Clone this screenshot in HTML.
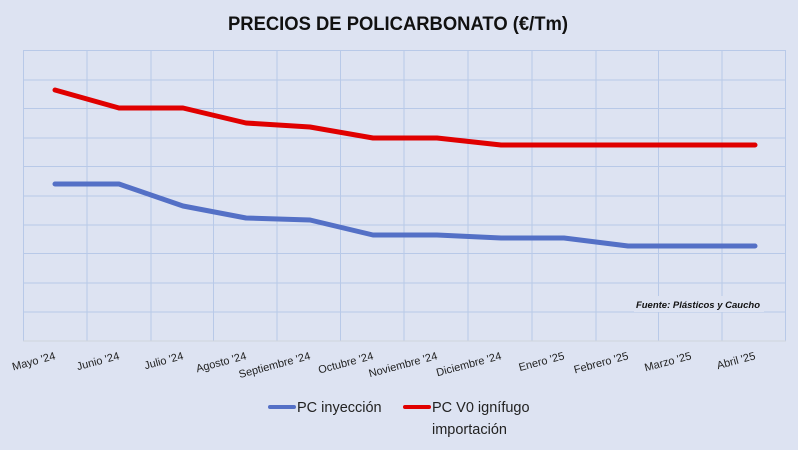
<!DOCTYPE html>
<html><head><meta charset="utf-8"><style>
html,body{margin:0;padding:0;background:#dde3f2;}
svg{display:block;font-family:"Liberation Sans",sans-serif;}
</style></head><body>
<svg width="798" height="450" viewBox="0 0 798 450">
<rect width="798" height="450" fill="#dde3f2"/>
<text x="398" y="30" text-anchor="middle" font-size="19" font-weight="bold" fill="#111" textLength="340" lengthAdjust="spacingAndGlyphs">PRECIOS DE POLICARBONATO (€/Tm)</text>
<g stroke="#b8c9e8" stroke-width="1">
<line x1="23" y1="50.5" x2="786" y2="50.5"/><line x1="23" y1="80" x2="786" y2="80"/>
<line x1="23" y1="108.5" x2="786" y2="108.5"/><line x1="23" y1="138" x2="786" y2="138"/>
<line x1="23" y1="166.5" x2="786" y2="166.5"/><line x1="23" y1="196" x2="786" y2="196"/>
<line x1="23" y1="225" x2="786" y2="225"/><line x1="23" y1="253.5" x2="786" y2="253.5"/>
<line x1="23" y1="283" x2="786" y2="283"/><line x1="23" y1="312" x2="786" y2="312"/>
<line x1="23.5" y1="50" x2="23.5" y2="341"/><line x1="87" y1="50" x2="87" y2="341"/>
<line x1="151" y1="50" x2="151" y2="341"/><line x1="213.5" y1="50" x2="213.5" y2="341"/>
<line x1="277" y1="50" x2="277" y2="341"/><line x1="340.5" y1="50" x2="340.5" y2="341"/>
<line x1="404" y1="50" x2="404" y2="341"/><line x1="468" y1="50" x2="468" y2="341"/>
<line x1="532" y1="50" x2="532" y2="341"/><line x1="596" y1="50" x2="596" y2="341"/>
<line x1="658.5" y1="50" x2="658.5" y2="341"/><line x1="722" y1="50" x2="722" y2="341"/>
<line x1="785.5" y1="50" x2="785.5" y2="341"/>
</g>
<line x1="23" y1="341" x2="786" y2="341" stroke="#d0d4dc" stroke-width="1"/>
<rect x="634" y="296" width="130" height="16" fill="#dde3f2"/>
<text x="760" y="308" text-anchor="end" font-size="9.5" font-weight="bold" font-style="italic" fill="#111">Fuente: Plásticos y Caucho</text>
<polyline fill="none" stroke="#e00000" stroke-width="5" stroke-linecap="round" stroke-linejoin="round" points="55,90 119,108 183,108 246,123 310,127 373,138 437,138 501,145 564,145 628,145 691,145 755,145"/>
<polyline fill="none" stroke="#5470c6" stroke-width="5" stroke-linecap="round" stroke-linejoin="round" points="55,184 119,184 183,206 246,218 310,220 373,235 437,235 501,238 564,238 628,246 691,246 755,246"/>
<g font-size="11" fill="#222" text-anchor="end">
<text transform="translate(56,359) rotate(-15)">Mayo '24</text>
<text transform="translate(120,359) rotate(-15)">Junio '24</text>
<text transform="translate(184,359) rotate(-15)">Julio '24</text>
<text transform="translate(247,359) rotate(-15)">Agosto '24</text>
<text transform="translate(311,359) rotate(-15)">Septiembre '24</text>
<text transform="translate(374,359) rotate(-15)">Octubre '24</text>
<text transform="translate(438,359) rotate(-15)">Noviembre '24</text>
<text transform="translate(502,359) rotate(-15)">Diciembre '24</text>
<text transform="translate(565,359) rotate(-15)">Enero '25</text>
<text transform="translate(629,359) rotate(-15)">Febrero '25</text>
<text transform="translate(692,359) rotate(-15)">Marzo '25</text>
<text transform="translate(756,359) rotate(-15)">Abril '25</text>
</g>
<line x1="270" y1="407" x2="294" y2="407" stroke="#5470c6" stroke-width="4" stroke-linecap="round"/>
<text x="297" y="412" font-size="14.5" fill="#222">PC inyección</text>
<line x1="405" y1="407" x2="429" y2="407" stroke="#e00000" stroke-width="4" stroke-linecap="round"/>
<text x="432" y="412" font-size="14.5" fill="#222">PC V0 ignífugo</text>
<text x="432" y="434" font-size="14.5" fill="#222">importación</text>
</svg>
</body></html>
